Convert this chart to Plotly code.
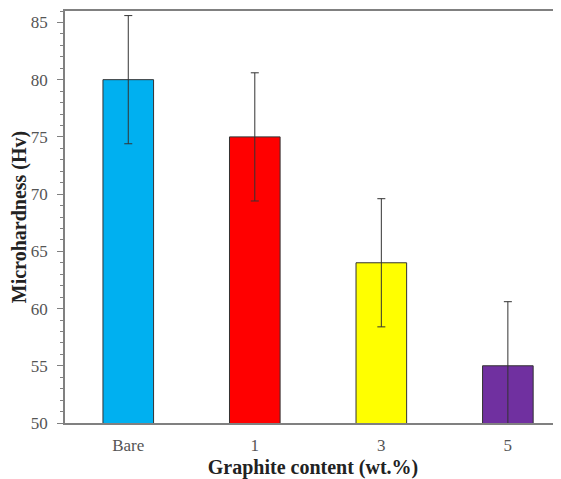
import plotly.graph_objects as go

categories = ["Bare", "1", "3", "5"]
hardness = [80, 75, 64, 55]
errors = [5.6, 5.6, 5.6, 5.6]
colors = ["#00B0F0", "#FF0000", "#FFFF00", "#7030A0"]

fig = go.Figure()
fig.add_trace(go.Bar(
    x=list(range(len(categories))),
    y=hardness,
    base=0,
    marker=dict(color=colors, line=dict(color="#333333", width=1)),
    error_y=dict(type="data", array=errors, visible=True, color="#333333", thickness=1, width=4),
    width=0.4,
))

serif = "Liberation Serif, Times New Roman, serif"
# page body has an 8px default margin; figure sized to compensate
fig.update_layout(
    width=553, height=471,
    margin=dict(l=57, r=0, t=3, b=56),
    plot_bgcolor="white", paper_bgcolor="white",
    showlegend=False,
    bargap=0.6,
    font=dict(family=serif, color="#555555"),
)
fig.update_xaxes(
    range=[-0.5, 3.42], automargin=False,
    tickmode="array", tickvals=list(range(len(categories))), ticktext=categories,
    showline=True, linecolor="#808080", linewidth=1.5, mirror=True,
    ticks="", showgrid=False, zeroline=False,
    tickfont=dict(size=17, color="#555555"),
    ticklabelstandoff=6,
    title=dict(text="<b>Graphite content (wt.%)</b>", font=dict(size=20, color="#222222"), standoff=9),
)
fig.update_yaxes(
    range=[50, 86], automargin=False,
    tickmode="linear", tick0=50, dtick=5,
    showline=True, linecolor="#808080", linewidth=1.5,
    ticks="outside", ticklen=6, tickwidth=1.2, tickcolor="#808080",
    minor=dict(ticks="outside", ticklen=3, tickwidth=1, tickcolor="#808080", dtick=1, tick0=50),
    showgrid=False, zeroline=False,
    tickfont=dict(size=17, color="#555555"),
    ticklabelstandoff=6,
    title=dict(text="<b>Microhardness (Hv)</b>", font=dict(size=20, color="#222222"), standoff=4),
)
fig.write_html("out.html")
